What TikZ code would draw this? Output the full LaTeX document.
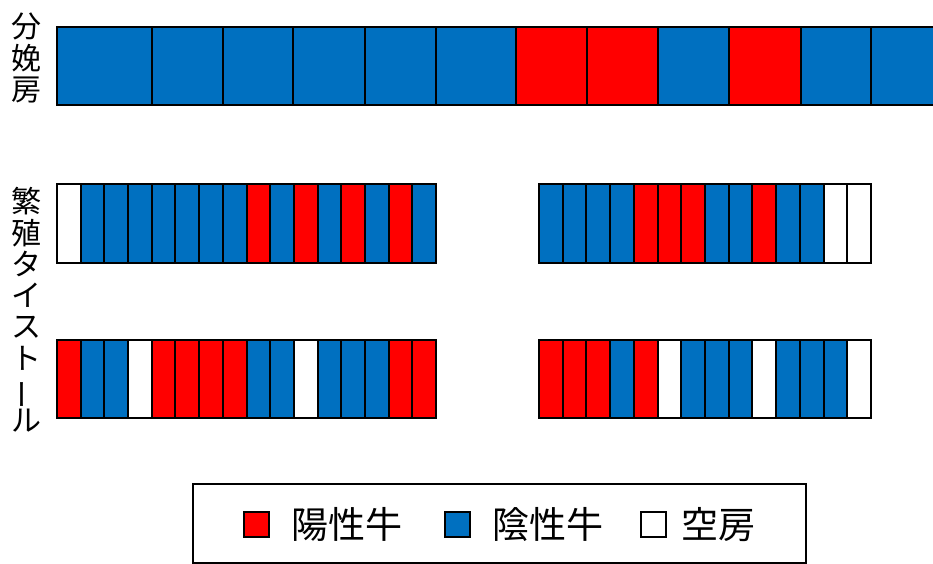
\documentclass[tikz,border=0pt]{standalone}
\usepackage{fontspec}
\newfontfamily\jpfont{Noto Sans CJK JP}
\definecolor{pos}{HTML}{FF0000}
\definecolor{neg}{HTML}{0070C0}
\colorlet{emp}{white}
\tikzset{
  cell/.style={draw=black, line width=2pt},
  keybox/.style={draw=black, line width=2pt, minimum size=25pt, inner sep=0pt},
  keytext/.style={anchor=west, inner sep=0pt, font=\jpfont\fontsize{37}{37}\selectfont},
  sidelabel/.style={align=center, inner sep=0pt, font=\jpfont\fontsize{30}{31.3}\selectfont},
}
\begin{document}
\begin{tikzpicture}[x=1pt, y=-1pt]
\useasboundingbox (0,0) rectangle (933,563);

% side labels
\node[sidelabel] (L1) at (27, 58) {分\\娩\\房};
\node[sidelabel] (L2) at (27, 310) {繁\\殖\\タ\\イ\\ス\\ト\\\rotatebox[origin=c]{90}{ー}\\ル};

% farrowing pens
\begin{scope}
\clip (0,0) rectangle (933,563);
\foreach \xa/\xb/\c in {57/152/neg, 152/223/neg, 223/293/neg, 293/365/neg, 365/436/neg, 436/516/neg,
                         516/587/pos, 587/658/pos, 658/729/neg, 729/801/pos, 801/871/neg, 871/950/neg}
  \draw[cell, fill=\c] (\xa,27) rectangle (\xb,105);
\end{scope}

% tie stalls
\foreach \c [count=\i from 0] in {emp,neg,neg,neg,neg,neg,neg,neg,pos,neg,pos,neg,pos,neg,pos,neg}
  \draw[cell, fill=\c] (57+23.69*\i,184) rectangle (80.69+23.69*\i,263);
\foreach \c [count=\i from 0] in {neg,neg,neg,neg,pos,pos,pos,neg,neg,pos,neg,neg,emp,emp}
  \draw[cell, fill=\c] (539+23.71*\i,184) rectangle (562.71+23.71*\i,263);
\foreach \c [count=\i from 0] in {pos,neg,neg,emp,pos,pos,pos,pos,neg,neg,emp,neg,neg,neg,pos,pos}
  \draw[cell, fill=\c] (57+23.69*\i,340) rectangle (80.69+23.69*\i,418);
\foreach \c [count=\i from 0] in {pos,pos,pos,neg,pos,emp,neg,neg,neg,emp,neg,neg,neg,emp}
  \draw[cell, fill=\c] (539+23.71*\i,340) rectangle (562.71+23.71*\i,418);

% legend
\draw[line width=2pt] (193,484) rectangle (806,562.5);
\node[keybox, fill=pos] (K1) at (256.5,524.5) {};
\node[keytext] (T1) at (291,524.5) {陽性牛};
\node[keybox, fill=neg] (K2) at (457.5,524.5) {};
\node[keytext] (T2) at (492,524.5) {陰性牛};
\node[keybox, fill=emp] (K3) at (653.5,524.5) {};
\node[keytext] (T3) at (681,524.5) {空房};
\end{tikzpicture}
\end{document}
